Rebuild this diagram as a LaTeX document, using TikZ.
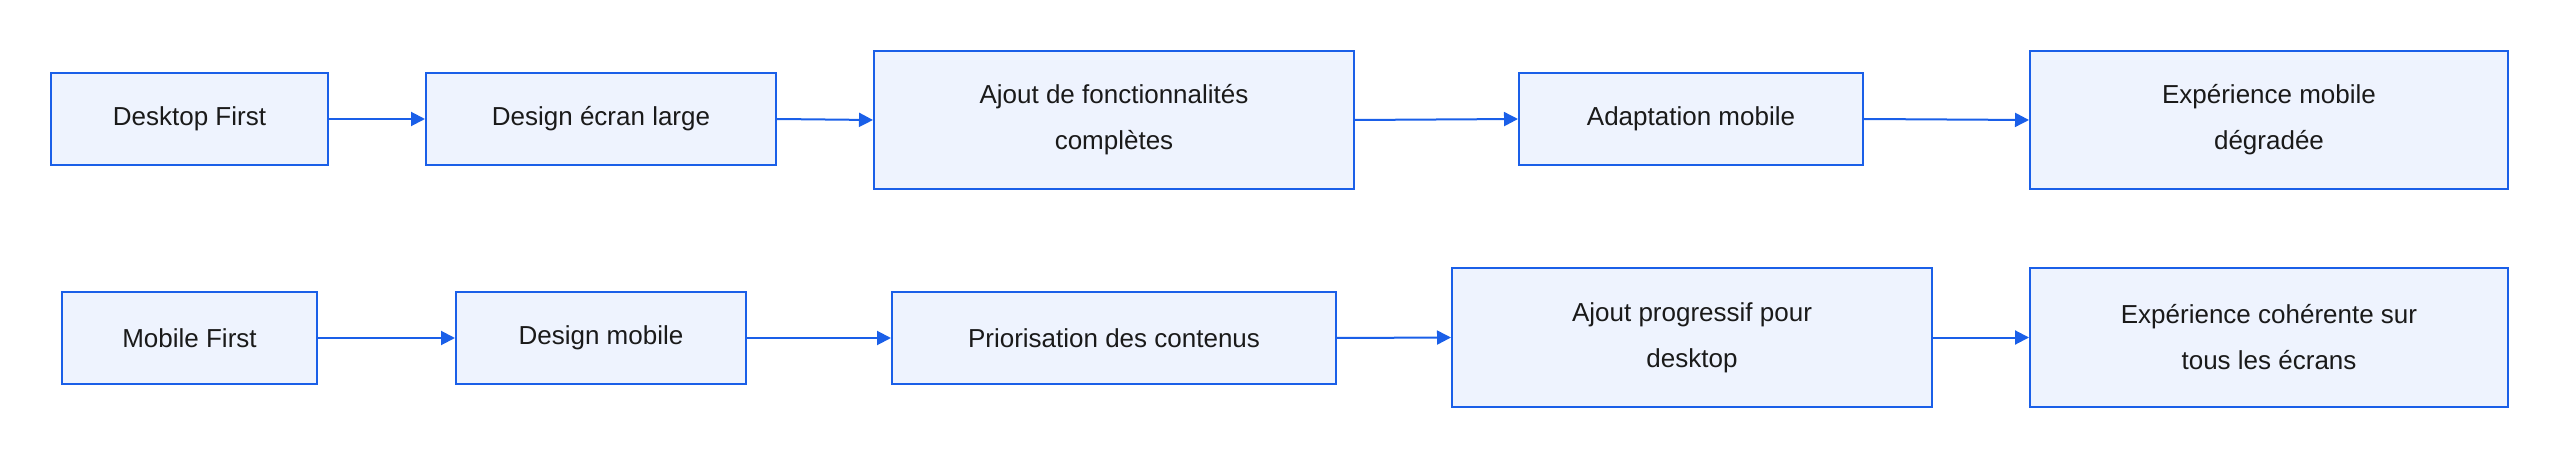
\documentclass[tikz,border=0pt]{standalone}
\usepackage{fontspec}
\setmainfont{Liberation Sans}
\usetikzlibrary{arrows.meta}
\definecolor{bfill}{HTML}{EEF3FE}
\definecolor{bline}{HTML}{1A5FE8}
\definecolor{txt}{HTML}{1A1A1A}
\begin{document}
\begin{tikzpicture}[x=1pt,y=-1pt,
  box/.style={draw=bline,fill=bfill,line width=2pt,text=txt,font=\fontsize{26}{46}\selectfont,align=center,inner sep=0pt},
  arr/.style={draw=bline,line width=2pt,-{Triangle[length=14pt,width=14pt]}}]
\useasboundingbox (0,0) rectangle (2560,465);
\newcommand\bx[6]{\node[box,minimum width=#4-#3,minimum height=#6-#5] (#1) at ({(#3+#4)/2},{(#5+#6)/2}) {#2};}
\bx{a1}{Desktop First}{51}{328}{73}{165}
\bx{a2}{Design écran large}{426}{776}{73}{165}
\bx{a3}{Ajout de fonctionnalités\\complètes}{874}{1354}{51}{189}
\bx{a4}{Adaptation mobile}{1519}{1863}{73}{165}
\bx{a5}{Expérience mobile\\dégradée}{2030}{2508}{51}{189}
\bx{b1}{Mobile First}{62}{317}{292}{384}
\bx{b2}{Design mobile}{456}{746}{292}{384}
\bx{b3}{Priorisation des contenus}{892}{1336}{292}{384}
\bx{b4}{Ajout progressif pour\\desktop}{1452}{1932}{268}{407}
\bx{b5}{Expérience cohérente sur\\tous les écrans}{2030}{2508}{268}{407}
\foreach \p/\q in {a1/a2,a2/a3,a3/a4,a4/a5,b1/b2,b2/b3,b3/b4,b4/b5}
  \draw[arr] (\p.east) -- (\q.west);
\end{tikzpicture}
\end{document}
